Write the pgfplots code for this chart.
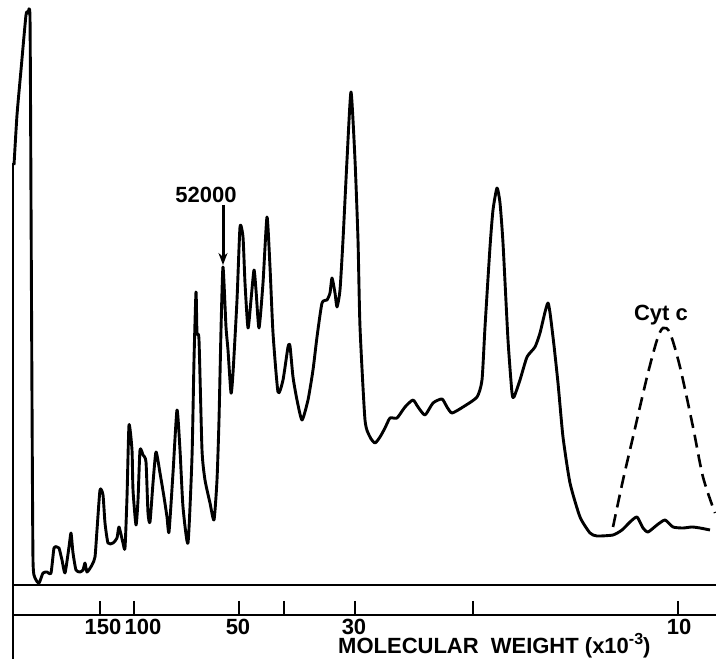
\documentclass[border=0pt]{standalone}
\usepackage{fontspec}
\setmainfont{Liberation Sans}
\usepackage{pgfplots}
\pgfplotsset{compat=1.18}
\usetikzlibrary{arrows.meta}
\begin{document}
\begin{tikzpicture}
\begin{axis}[
  scale only axis, width=716pt, height=659pt,
  xmin=0, xmax=716, ymin=-74, ymax=585,
  axis lines=none, clip=false,
]
% main densitometer trace
\addplot[black, line width=2.9pt, smooth, tension=0.35, line join=round] coordinates {
(14,420) (17,470) (21,515) (26,570) (28,572) (30,567) (31,385) (32,185) (33,25) (35,7) (39,2)
(43,12) (47,13) (51,12) (54,37) (57,38) (59,37) (62,25) (65,12) (69,38) (71,52)
(73,32) (76,15) (80,13) (83,15) (85,22) (87,13) (92,20) (95,28) (97,55) (100,95)
(103,90) (105,62) (108,42) (113,42) (117,47) (119,58) (123,42) (125,37) (127,88) (129,160)
(132,135) (133,95) (136,60) (138,85) (140,135) (143,130) (146,123) (148,72) (150,63) (153,102)
(156,133) (160,112) (164,88) (167,68) (169,53) (173,112) (177,175) (180,135) (183,78) (188,42)
(192,128) (194,225) (196,293) (197,252) (199,245) (202,135) (205,105) (210,82) (214,65) (217,105)
(219,165) (221,255) (223,318) (226,258) (228,235) (231,192) (233,212) (237,285) (240,358) (243,348)
(245,302) (248,257) (251,285) (254,315) (256,295) (259,257) (263,302) (267,368) (270,318) (273,252)
(278,193) (283,205) (288,238) (290,239) (293,208) (297,185) (302,165) (308,185) (313,215) (317,248)
(322,282) (327,285) (330,292) (332,307) (335,292) (337,278) (340,295) (343,345) (347,425) (351,493)
(355,425) (358,345) (360,258) (365,165) (370,148) (375,142) (380,148) (385,157) (390,167) (397,167)
(405,178) (413,185) (418,178) (425,170) (433,182) (442,186) (447,178) (452,172) (463,178) (477,188)
(482,205) (485,258) (490,338) (493,375) (497,397) (500,382) (503,342) (508,245) (512,192) (514,188)
(520,205) (527,228) (535,238) (540,252) (548,282) (553,248) (558,202) (563,148) (570,102) (580,68)
(590,52) (597,49) (613,50) (622,55) (630,63) (637,68) (643,57) (648,53) (657,60) (665,65)
(673,58) (683,57) (692,58) (700,57) (710,55)
};
% cytochrome c marker (dashed)
\addplot[black, line width=2.6pt, dash pattern=on 13pt off 7pt, smooth, tension=0.5] coordinates {
(613,58) (623,105) (633,148) (647,208) (657,245) (663,257) (670,252) (680,218) (693,158) (703,108) (715,72)
};
% frame lines
\draw[line width=2.2pt] (axis cs:13,-74) -- (axis cs:13,422);
\draw[line width=2.2pt] (axis cs:12,0) -- (axis cs:716,0);
\draw[line width=2pt] (axis cs:12,-30) -- (axis cs:716,-30);
\pgfplotsinvokeforeach{100,134,239,284,355,473,678}{
  \draw[line width=1.8pt] (axis cs:#1,-16) -- (axis cs:#1,-30);
}
\begin{scope}[font=\fontsize{22}{22}\selectfont\bfseries, inner sep=0pt]
\node at (axis cs:103,-41.5) {150};
\node at (axis cs:143,-41.5) {100};
\node at (axis cs:238,-41.5) {50};
\node at (axis cs:354,-41.5) {30};
\node at (axis cs:679,-41.5) {10};
\node[anchor=base west] at (axis cs:338,-69) {MOLECULAR\hspace{0.55em}WEIGHT (x10\raisebox{0.45em}{\fontsize{16}{16}\selectfont -3})};
\node at (axis cs:206,390) {52000};
\node at (axis cs:661,270) {Cyt c};
\end{scope}
\draw[line width=3pt, -{Stealth[length=12pt,width=9pt]}] (axis cs:223,380) -- (axis cs:223,320);
\end{axis}
\pgfresetboundingbox
\path (current axis.south west) rectangle (current axis.north east);
\end{tikzpicture}
\end{document}
